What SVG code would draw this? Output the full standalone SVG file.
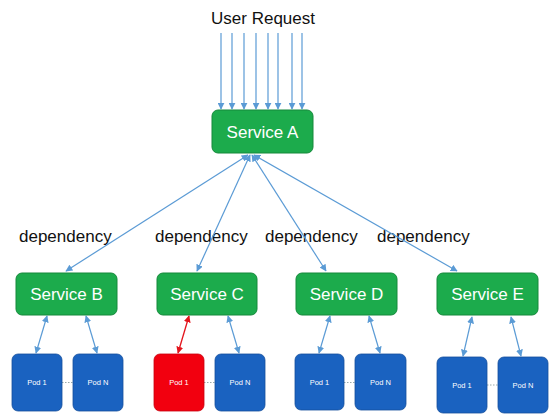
<svg xmlns="http://www.w3.org/2000/svg" width="553" height="420" viewBox="0 0 553 420">
<defs>
<style>
.svc rect{fill:#1cab4c;stroke:#14893a;stroke-width:1}
.svc text{fill:#fff;font-family:"Liberation Sans",Arial,sans-serif;font-size:17px;text-anchor:middle}
.pod rect{fill:#1a62c0;stroke:#154f9c;stroke-width:0.8}
.pod.red rect{fill:#f2000f;stroke:#c8000c}
.pod text{fill:#fff;font-family:"Liberation Sans",Arial,sans-serif;font-size:7.5px;text-anchor:middle}
.lbl{fill:#111;font-family:"Liberation Sans",Arial,sans-serif;font-size:17px}
.c{stroke:#5b9bd5;stroke-width:1.2;fill:none}
.cr{stroke:#e3141c;stroke-width:1.3;fill:none}
.dot{stroke:#9aa;stroke-width:1;stroke-dasharray:1.5 1.5}
</style>
<marker id="ah" viewBox="0 0 10 10" refX="9" refY="5" markerWidth="7" markerHeight="7" markerUnits="userSpaceOnUse" orient="auto-start-reverse"><path d="M0,0L10,5L0,10z" fill="#5b9bd5"/></marker>
<marker id="ahr" viewBox="0 0 10 10" refX="9" refY="5" markerWidth="7" markerHeight="7" markerUnits="userSpaceOnUse" orient="auto-start-reverse"><path d="M0,0L10,5L0,10z" fill="#e3141c"/></marker>
</defs>
<rect width="553" height="420" fill="#fff"/>
<text class="lbl" x="263" y="24" text-anchor="middle">User Request</text>
<text class="lbl" x="19" y="242">dependency</text>
<text class="lbl" x="155" y="242">dependency</text>
<text class="lbl" x="265" y="242">dependency</text>
<text class="lbl" x="377" y="242">dependency</text>
<g id="connectors">
<line class="c" x1="221" y1="33" x2="221" y2="109" marker-end="url(#ah)"/>
<line class="c" x1="232" y1="33" x2="232" y2="109" marker-end="url(#ah)"/>
<line class="c" x1="244" y1="33" x2="244" y2="109" marker-end="url(#ah)"/>
<line class="c" x1="256" y1="33" x2="256" y2="109" marker-end="url(#ah)"/>
<line class="c" x1="268" y1="33" x2="268" y2="109" marker-end="url(#ah)"/>
<line class="c" x1="278" y1="33" x2="278" y2="109" marker-end="url(#ah)"/>
<line class="c" x1="292" y1="33" x2="292" y2="109" marker-end="url(#ah)"/>
<line class="c" x1="302" y1="33" x2="302" y2="109" marker-end="url(#ah)"/>
<line class="c" x1="248" y1="155" x2="66" y2="271" marker-start="url(#ah)" marker-end="url(#ah)"/>
<line class="c" x1="250" y1="155" x2="197" y2="271" marker-start="url(#ah)" marker-end="url(#ah)"/>
<line class="c" x1="252" y1="155" x2="326" y2="271" marker-start="url(#ah)" marker-end="url(#ah)"/>
<line class="c" x1="254" y1="155" x2="457" y2="271" marker-start="url(#ah)" marker-end="url(#ah)"/>
<line class="c" x1="47" y1="316" x2="36" y2="353" marker-start="url(#ah)" marker-end="url(#ah)"/>
<line class="c" x1="86" y1="316" x2="97" y2="353" marker-start="url(#ah)" marker-end="url(#ah)"/>
<line class="cr" x1="189" y1="316" x2="178" y2="353" marker-start="url(#ahr)" marker-end="url(#ahr)"/>
<line class="c" x1="228" y1="316" x2="239" y2="353" marker-start="url(#ah)" marker-end="url(#ah)"/>
<line class="c" x1="330" y1="316" x2="319" y2="353" marker-start="url(#ah)" marker-end="url(#ah)"/>
<line class="c" x1="369" y1="316" x2="380" y2="353" marker-start="url(#ah)" marker-end="url(#ah)"/>
<line class="c" x1="472" y1="317" x2="463" y2="356" marker-start="url(#ah)" marker-end="url(#ah)"/>
<line class="c" x1="511" y1="317" x2="521" y2="356" marker-start="url(#ah)" marker-end="url(#ah)"/>
<line class="dot" x1="62" y1="382.5" x2="73" y2="382.5"/>
<line class="dot" x1="204" y1="382.5" x2="215" y2="382.5"/>
<line class="dot" x1="344" y1="382.5" x2="355" y2="382.5"/>
<line class="dot" x1="487" y1="385" x2="498" y2="385"/>
</g>
<g id="serviceA" class="svc"><rect x="212" y="110" width="101" height="43" rx="6"/><text x="262.5" y="138">Service A</text></g>
<g id="serviceB" class="svc"><rect x="16" y="273" width="101" height="42" rx="6"/><text x="66.5" y="300">Service B</text></g>
<g id="serviceC" class="svc"><rect x="157" y="273" width="100" height="42" rx="6"/><text x="207" y="300">Service C</text></g>
<g id="serviceD" class="svc"><rect x="296" y="273" width="101" height="42" rx="6"/><text x="346.5" y="300">Service D</text></g>
<g id="serviceE" class="svc"><rect x="437" y="273" width="101" height="42" rx="6"/><text x="487.5" y="300">Service E</text></g>
<g id="podB1" class="pod"><rect x="12" y="354" width="50" height="57" rx="6"/><text x="37" y="385">Pod 1</text></g>
<g id="podBN" class="pod"><rect x="73" y="354" width="50" height="57" rx="6"/><text x="98" y="385">Pod N</text></g>
<g id="podC1" class="pod red"><rect x="154" y="354" width="50" height="57" rx="6"/><text x="179" y="385">Pod 1</text></g>
<g id="podCN" class="pod"><rect x="215" y="354" width="50" height="57" rx="6"/><text x="240" y="385">Pod N</text></g>
<g id="podD1" class="pod"><rect x="295" y="354" width="49" height="56" rx="6"/><text x="319.5" y="385">Pod 1</text></g>
<g id="podDN" class="pod"><rect x="355" y="354" width="51" height="56" rx="6"/><text x="380.5" y="385">Pod N</text></g>
<g id="podE1" class="pod"><rect x="437" y="357" width="50" height="56" rx="6"/><text x="462" y="388">Pod 1</text></g>
<g id="podEN" class="pod"><rect x="498" y="357" width="50" height="56" rx="6"/><text x="523" y="388">Pod N</text></g>
</svg>
